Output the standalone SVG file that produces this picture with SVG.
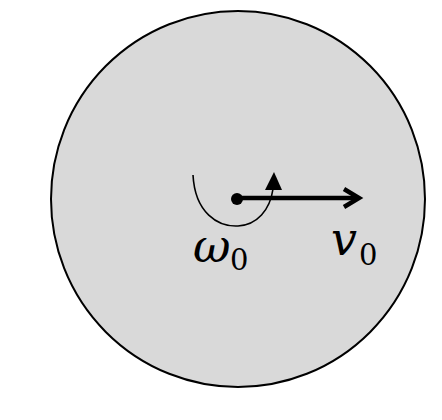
<svg xmlns="http://www.w3.org/2000/svg" width="442" height="420" viewBox="0 0 442 420">
<rect width="442" height="420" fill="#fff"/>
<g id="disk">
<ellipse cx="238" cy="199" rx="187" ry="188" fill="#d9d9d9" stroke="#000" stroke-width="2"/>
</g>
<g id="connectors" fill="none" stroke="#000">
<path d="M193,175 C195,213 218,227 238,226 C257,225 270,210 273,189" stroke-width="1.6"/>
<polygon points="274,172 282,190 265,190" fill="#000" stroke="none"/>
<line x1="237" y1="198" x2="358" y2="198" stroke-width="4.5"/>
<polyline points="344,189 359,198 344,207" stroke-width="4.5" stroke-linejoin="miter"/>
</g>
<g id="center">
<circle cx="237" cy="199" r="6" fill="#000"/>
</g>
<g id="label-omega" font-family="'DejaVu Serif', serif" fill="#000">
<text x="193" y="262" font-size="46" font-style="italic">ω</text>
<text x="230" y="270" font-size="29">0</text>
</g>
<g id="label-v" font-family="'DejaVu Serif', serif" fill="#000">
<text x="331" y="255" font-size="46" font-style="italic">v</text>
<text x="359" y="265" font-size="29">0</text>
</g>
</svg>
